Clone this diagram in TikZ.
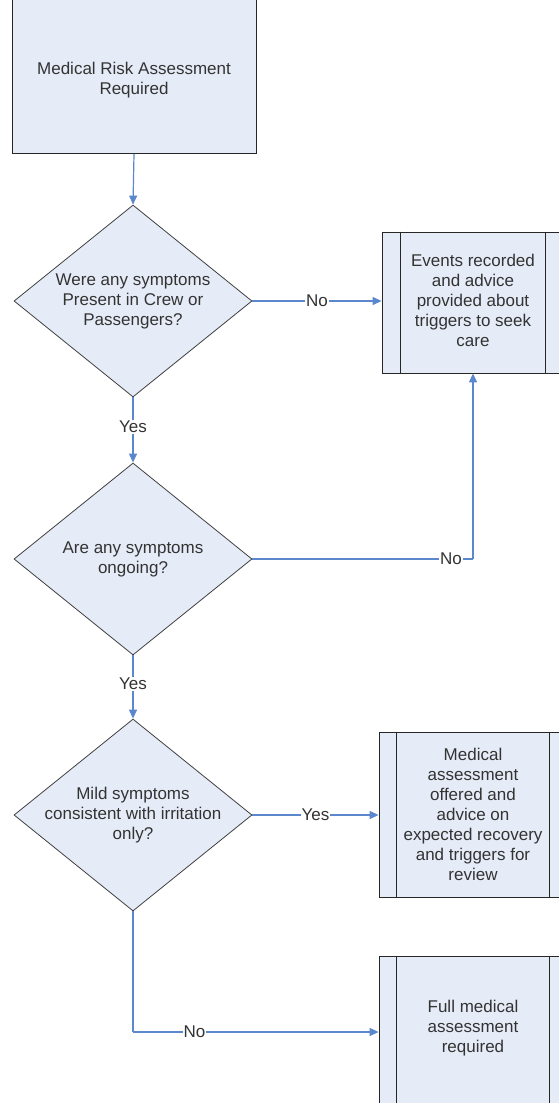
\documentclass[tikz,border=0pt]{standalone}
\usepackage{fontspec}
\setmainfont{Liberation Sans}
\usetikzlibrary{shapes.geometric,arrows.meta}
\definecolor{boxfill}{HTML}{E6ECF7}
\definecolor{linkblue}{HTML}{5B87CC}
\definecolor{txt}{HTML}{333333}
\begin{document}
\begin{tikzpicture}[x=1pt,y=-1pt,
  every node/.style={text=txt,font=\fontsize{17}{20}\selectfont,align=center},
  procbox/.style={draw=black!85,fill=boxfill,line width=0.8pt,rectangle,inner sep=0pt},
  decision/.style={draw=black!75,fill=boxfill,line width=0.8pt,diamond,inner sep=0pt,minimum width=238pt,minimum height=192pt},
  link/.style={draw=linkblue,line width=1.2pt,-{Triangle[length=9pt,width=8pt]}},
  plainlink/.style={draw=linkblue,line width=1.2pt},
  lbl/.style={fill=white,inner sep=1pt}
]
\useasboundingbox (0,0) rectangle (558,1103);

% start box
\node[procbox,minimum width=244pt,minimum height=157pt] (start) at (134,75) {};
\node at (134,80) {Medical Risk Assessment\\Required};

% decisions
\node[decision] (d1) at (133,301) {};
\node at (133,301) {Were any symptoms\\Present in Crew or\\Passengers?};
\node[decision] (d2) at (133,559) {};
\node at (133,559) {Are any symptoms\\ongoing?};
\node[decision] (d3) at (133,815) {};
\node at (133,815) {Mild symptoms\\consistent with irritation\\only?};

% predefined process boxes
\node[procbox,minimum width=182pt,minimum height=141pt] (b2) at (473,302.5) {};
\draw[black!85,line width=0.8pt] ([xshift=19pt]b2.north west) -- ([xshift=19pt]b2.south west)
  ([xshift=-19pt]b2.north east) -- ([xshift=-19pt]b2.south east);
\node at (473,300) {Events recorded\\and advice\\provided about\\triggers to seek\\care};

\node[procbox,minimum width=188pt,minimum height=165pt] (b3) at (473,814.5) {};
\draw[black!85,line width=0.8pt] ([xshift=18pt]b3.north west) -- ([xshift=18pt]b3.south west)
  ([xshift=-18pt]b3.north east) -- ([xshift=-18pt]b3.south east);
\node at (473,814.5) {Medical\\assessment\\offered and\\advice on\\expected recovery\\and triggers for\\review};

\node[procbox,minimum width=188pt,minimum height=152pt] (b4) at (473,1032) {};
\draw[black!85,line width=0.8pt] ([xshift=18pt]b4.north west) -- ([xshift=18pt]b4.south west)
  ([xshift=-18pt]b4.north east) -- ([xshift=-18pt]b4.south east);
\node at (473,1028) {Full medical\\assessment\\required};

% connectors
\draw[link] (start.south) -- (d1.north);
\draw[link] (d1.east) -- node[lbl] {No} (b2.west |- d1.east);
\draw[link] (d1.south) -- node[lbl,pos=0.45] {Yes} (d2.north);
\coordinate (c2) at (b2.south |- d2.east);
\draw[plainlink] (d2.east) -- node[lbl,pos=0.9] {No} (c2);
\draw[link] (c2) -- (b2.south);
\draw[link] (d2.south) -- node[lbl,pos=0.45] {Yes} (d3.north);
\draw[link] (d3.east) -- node[lbl] {Yes} (b3.west |- d3.east);
\coordinate (c3) at (d3.south |- 0,1032);
\draw[plainlink] (d3.south) -- (c3);
\draw[link] (c3) -- node[lbl,pos=0.25] {No} (b4.west |- c3);
\end{tikzpicture}
\end{document}
